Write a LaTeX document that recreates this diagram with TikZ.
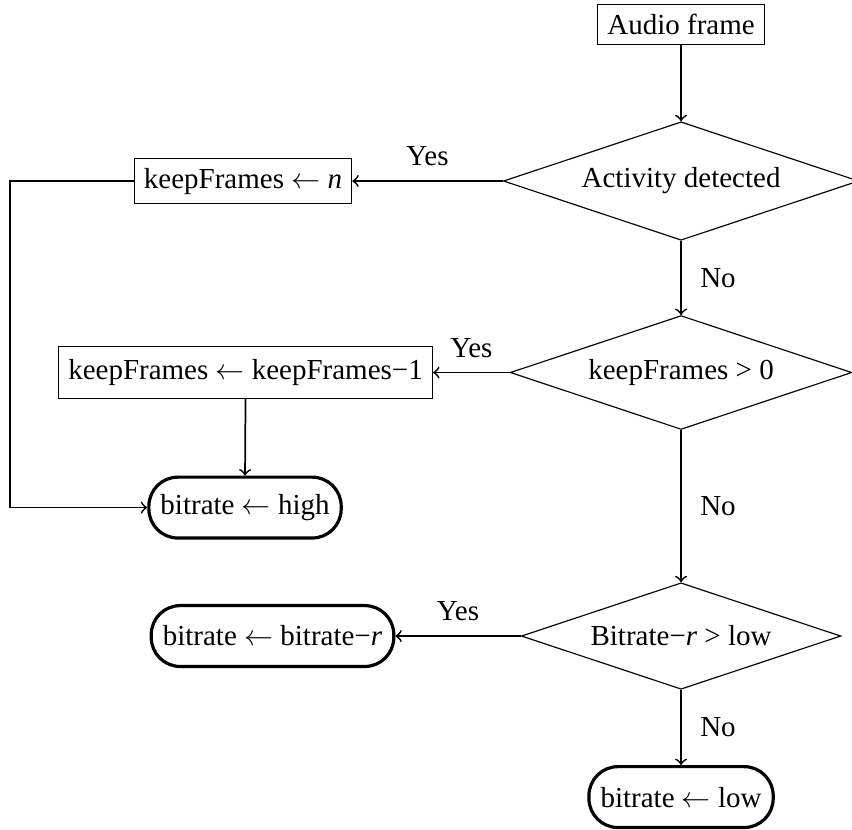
\documentclass[tikz,border=0pt]{standalone}
\usepackage{fontspec}
\setmainfont{Liberation Serif}
\usetikzlibrary{shapes.geometric}

\begin{document}
\begin{tikzpicture}[
  process/.style={draw, rectangle},
  decision/.style={draw, diamond, aspect=3},
  terminal/.style={draw, line width=1.1pt, rectangle, rounded corners=10pt, minimum height=21pt, inner xsep=4pt},
  flow/.style={->, semithick}
]

\useasboundingbox (0,0) rectangle (10.327,-10.048);

\node[process] (audio) at (8.255,-0.297) {Audio frame};
\node[decision] (activity) at (8.255,-2.194) {Activity detected};
\node[process] (keepn) at (2.945,-2.194) {keepFrames $\leftarrow$ \textit{n}};
\node[decision] (keeppos) at (8.255,-4.515) {keepFrames > 0};
\node[process, minimum height=18pt] (keepdec) at (2.976,-4.515) {keepFrames $\leftarrow$ keepFrames−1};
\node[terminal] (high) at (2.970,-6.152) {bitrate $\leftarrow$ high};
\node[decision] (ratecheck) at (8.255,-7.709) {Bitrate−\textit{r} > low};
\node[terminal] (ratesub) at (3.303,-7.709) {bitrate $\leftarrow$ bitrate−\textit{r}};
\node[terminal] (low) at (8.255,-9.661) {bitrate $\leftarrow$ low};
\coordinate (bend) at (0.121,-2.194);

\draw[flow] (audio.south) -- (activity.north);
\draw[flow] (activity.west) -- node[midway, above=1.5pt] {Yes} (keepn.east);
\draw[flow] (activity.south) -- node[midway, right=3pt] {No} (keeppos.north);
\draw[flow] (keeppos.west) -- node[midway, above=1.5pt] {Yes} (keepdec.east);
\draw[flow] (keeppos.south) -- node[midway, right=3pt] {No} (ratecheck.north);
\draw[flow] (keepdec.south) -- (high.north);
\draw[flow] (keepn.west) -- (bend) |- (high.west);
\draw[flow] (ratecheck.west) -- node[midway, above=1.5pt] {Yes} (ratesub.east);
\draw[flow] (ratecheck.south) -- node[midway, right=3pt] {No} (low.north);

\end{tikzpicture}
\end{document}
